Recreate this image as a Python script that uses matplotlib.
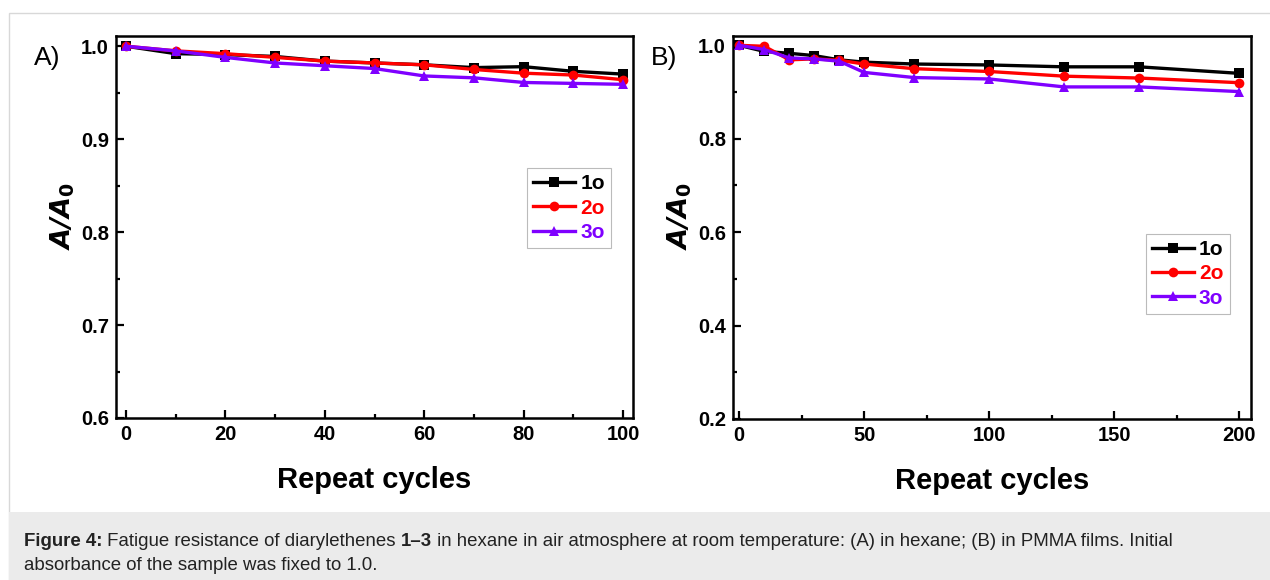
import matplotlib
matplotlib.use('Agg')
from matplotlib import pyplot as plt
from matplotlib.patches import Rectangle
from matplotlib.ticker import MultipleLocator, FormatStrFormatter

plt.rcParams['font.family'] = ['Liberation Sans', 'DejaVu Sans']

# panel A: in hexane
cycles_a = [0, 10, 20, 30, 40, 50, 60, 70, 80, 90, 100]
a_1o = [1.0, 0.992, 0.991, 0.989, 0.984, 0.982, 0.980, 0.977, 0.978, 0.973, 0.970]
a_2o = [1.0, 0.995, 0.992, 0.988, 0.984, 0.982, 0.980, 0.975, 0.971, 0.969, 0.964]
a_3o = [1.0, 0.995, 0.988, 0.982, 0.979, 0.976, 0.968, 0.966, 0.961, 0.960, 0.959]

# panel B: in PMMA films
cycles_b = [0, 10, 20, 30, 40, 50, 70, 100, 130, 160, 200]
b_1o = [1.0, 0.987, 0.983, 0.978, 0.969, 0.964, 0.960, 0.958, 0.954, 0.954, 0.940]
b_2o = [1.0, 0.998, 0.969, 0.971, 0.968, 0.960, 0.950, 0.944, 0.934, 0.930, 0.920]
b_3o = [1.0, 0.991, 0.973, 0.971, 0.966, 0.942, 0.931, 0.928, 0.911, 0.911, 0.901]

labels = ['1o', '2o', '3o']
colors = ['#000000', '#ff0000', '#7f00ff']
markers = ['s', 'o', '^']
msizes = [6.5, 7, 7.5]

W, H = 1270, 580


def px_axes(fig, l, t, r, b):
    return fig.add_axes([l / W, (H - b) / H, (r - l) / W, (b - t) / H])


def draw_panel(ax, x, series, xlim, ylim, xmaj, xmin, ymaj, ymin, leg_pos, tag):
    for y, lab, c, m, ms in zip(series, labels, colors, markers, msizes):
        ax.plot(x, y, color=c, marker=m, markersize=ms, linewidth=2.4,
                markeredgewidth=0, label=lab, clip_on=False, zorder=3)
    ax.set_xlim(*xlim)
    ax.set_ylim(*ylim)
    ax.xaxis.set_major_locator(MultipleLocator(xmaj))
    ax.xaxis.set_minor_locator(MultipleLocator(xmin))
    ax.yaxis.set_major_locator(MultipleLocator(ymaj))
    ax.yaxis.set_minor_locator(MultipleLocator(ymin))
    ax.yaxis.set_major_formatter(FormatStrFormatter('%.1f'))
    ax.tick_params(which='both', direction='in', top=False, right=False, width=1.6)
    ax.tick_params(which='major', length=6, labelsize=14.5, pad=5)
    ax.tick_params(which='minor', length=3)
    for lbl in ax.get_xticklabels() + ax.get_yticklabels():
        lbl.set_fontweight('bold')
    for sp in ax.spines.values():
        sp.set_linewidth(1.8)
    ax.set_xlabel('Repeat cycles', fontsize=21, fontweight='bold', labelpad=16)
    ax.set_ylabel(r'$\mathbfit{A/A}_{\mathbf{0}}$', fontsize=19.5)
    ax.yaxis.set_label_coords(-0.076, 0.53)
    leg = ax.legend(loc='upper left', bbox_to_anchor=leg_pos, fancybox=False,
                    edgecolor='#bbbbbb', framealpha=1, handlelength=2.0,
                    handletextpad=0.25, borderpad=0.3, labelspacing=0.25,
                    prop={'weight': 'bold', 'size': 15}, borderaxespad=0)
    leg.get_frame().set_linewidth(0.8)
    for txt, c in zip(leg.get_texts(), colors):
        txt.set_color(c)
    ax.text(-0.159, 0.942, tag, transform=ax.transAxes, fontsize=19, va='center')


fig = plt.figure(figsize=(12.7, 5.8), dpi=100)

# page frame and caption box
fig.patches.append(Rectangle((9 / W, 0), 1, (H - 13) / H, transform=fig.transFigure,
                             facecolor='white', edgecolor='#d8d8d8', linewidth=1, zorder=-5))
fig.patches.append(Rectangle((9 / W, 0), 1, (H - 512) / H, transform=fig.transFigure,
                             facecolor='#ebebeb', edgecolor='none', zorder=-4))

ax1 = px_axes(fig, 116, 36, 633, 418)
draw_panel(ax1, cycles_a, [a_1o, a_2o, a_3o], (-2, 102), (0.6, 1.011),
           20, 10, 0.1, 0.05, (0.795, 0.654), 'A)')

ax2 = px_axes(fig, 733, 36, 1251, 419)
draw_panel(ax2, cycles_b, [b_1o, b_2o, b_3o], (-2.5, 204.7), (0.2, 1.02),
           50, 25, 0.2, 0.1, (0.797, 0.483), 'B)')

# caption, first line has bold pieces chained one after another
pieces = [('Figure 4:', 'bold'), (' Fatigue resistance of diarylethenes ', 'normal'),
          ('1\u20133', 'bold'),
          (' in hexane in air atmosphere at room temperature: (A) in hexane; (B) in PMMA films. Initial',
           'normal')]
cap_size = 13.45
cap_color = '#222222'
t = fig.text(24 / W, (H - 546) / H, pieces[0][0], fontsize=cap_size,
             fontweight=pieces[0][1], color=cap_color)
for s, w in pieces[1:]:
    t = ax1.annotate(s, xy=(1, 0), xycoords=t, va='bottom', ha='left',
                     fontsize=cap_size, fontweight=w, color=cap_color,
                     annotation_clip=False)
fig.text(24 / W, (H - 570) / H, 'absorbance of the sample was fixed to 1.0.',
         fontsize=cap_size, color=cap_color)

fig.savefig('out.png', dpi=100)
